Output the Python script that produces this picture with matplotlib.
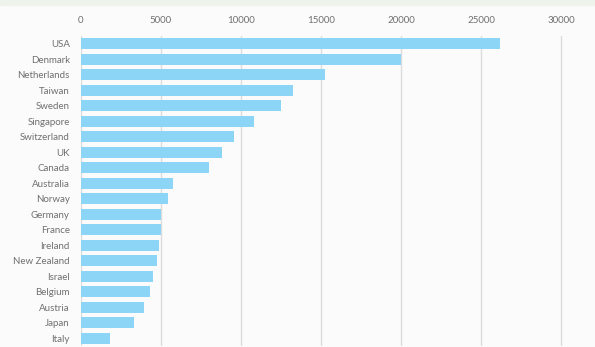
import matplotlib.pyplot as plt

countries = ["USA", "Denmark", "Netherlands", "Taiwan", "Sweden", "Singapore",
             "Switzerland", "UK", "Canada", "Australia", "Norway", "Germany",
             "France", "Ireland", "New Zealand", "Israel", "Belgium", "Austria",
             "Japan", "Italy"]
values = [26200, 20000, 15250, 13250, 12500, 10800, 9550, 8800, 8000, 5750,
          5450, 5000, 4980, 4870, 4750, 4500, 4300, 3950, 3300, 1800]
ticks = [0, 5000, 10000, 15000, 20000, 25000, 30000]

plt.rcParams['font.family'] = ['Lato', 'DejaVu Sans']

fig = plt.figure(figsize=(5.95, 3.47), dpi=100, facecolor='#fbfbfb')
# thin tinted strip along the top edge
fig.patches.append(plt.Rectangle((0, 0.985), 1, 0.015, transform=fig.transFigure,
                                 color='#eef3ec', zorder=0))
ax = fig.add_axes([0.1361, 0.003, 0.8605, 0.893])
ax.set_facecolor('#fbfbfb')

ypos = list(range(len(countries)))
ax.barh(ypos, values, height=0.7, color='#8dd5f7', zorder=2)
ax.set_yticks(ypos)
ax.set_yticklabels(countries)
ax.set_ylim(len(countries) - 0.5, -0.5)

ax.set_xlim(0, 32000)
ax.set_xticks(ticks)
ax.set_xticklabels([str(t) for t in ticks])
ax.xaxis.tick_top()
ax.grid(axis='x', color='#dcdcdc', linewidth=1, zorder=1)
ax.tick_params(axis='both', length=0, labelsize=7, labelcolor='#707070')
ax.tick_params(axis='x', pad=8)
ax.tick_params(axis='y', pad=8)
for s in ax.spines.values():
    s.set_visible(False)

plt.savefig("out.png", dpi=100, facecolor=fig.get_facecolor())
